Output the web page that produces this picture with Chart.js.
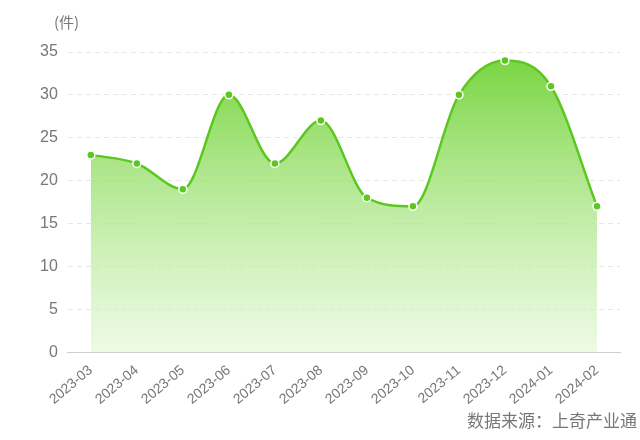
<!DOCTYPE html>
<html lang="zh">
<head>
  <meta charset="UTF-8">
  <title>月度数量</title>
  <script src="https://cdn.jsdelivr.net/npm/chart.js"></script>
  <style>
    body { margin: 0; background: #fff; font-family: "Noto Sans CJK SC", "Noto Sans", sans-serif; }
  </style>
</head>
<body>
  <canvas id="c" width="640" height="440"></canvas>
  <script>
    const months = ['2023-03', '2023-04', '2023-05', '2023-06', '2023-07', '2023-08',
                    '2023-09', '2023-10', '2023-11', '2023-12', '2024-01', '2024-02'];
    const counts = [23, 22, 19, 30, 22, 27, 18, 17, 30, 34, 31, 17];
    const unitLabel = '(件)';
    const sourceText = '数据来源：上奇产业通';

    // 单位和数据来源文字
    const extraText = {
      id: 'extraText',
      afterDraw(chart) {
        const ctx = chart.ctx;
        ctx.save();
        ctx.fillStyle = '#777';
        ctx.font = '15px "Noto Sans CJK SC", sans-serif';
        ctx.textAlign = 'left';
        ctx.textBaseline = 'middle';
        ctx.fillText(unitLabel, 54, 22);
        ctx.font = '17px "Noto Sans CJK SC", sans-serif';
        ctx.textAlign = 'right';
        ctx.fillText(sourceText, 637, 421);
        ctx.restore();
      }
    };

    new Chart(document.getElementById('c'), {
      type: 'line',
      data: {
        labels: months,
        datasets: [{
          data: counts,
          borderColor: '#5cc71f',
          borderWidth: 2.5,
          fill: true,
          backgroundColor: (c) => {
            const area = c.chart.chartArea;
            if (!area) return 'rgba(120,210,70,0.6)';
            const g = c.chart.ctx.createLinearGradient(0, area.top, 0, area.bottom);
            g.addColorStop(0, 'rgba(110,210,50,0.95)');
            g.addColorStop(1, 'rgba(225,247,210,0.6)');
            return g;
          },
          cubicInterpolationMode: 'monotone',
          pointRadius: 4,
          pointBackgroundColor: '#5cc71f',
          pointBorderColor: '#fff',
          pointBorderWidth: 1.5
        }]
      },
      options: {
        responsive: false,
        animation: false,
        devicePixelRatio: 1,
        layout: { padding: { top: 52, right: 20, bottom: 30, left: 30 } },
        plugins: { legend: { display: false }, tooltip: { enabled: false } },
        scales: {
          x: {
            offset: true,
            grid: { display: false },
            border: { display: true, color: '#cfcfcf' },
            ticks: {
              color: '#777',
              font: { size: 14 },
              minRotation: 40,
              maxRotation: 40,
              padding: 2
            }
          },
          y: {
            min: 0,
            max: 35,
            ticks: { stepSize: 5, color: '#777', font: { size: 16 }, padding: 10 },
            grid: { color: '#e6e6e6', drawTicks: false },
            border: { display: false, dash: [5, 4] }
          }
        }
      },
      plugins: [extraText]
    });
  </script>
</body>
</html>
